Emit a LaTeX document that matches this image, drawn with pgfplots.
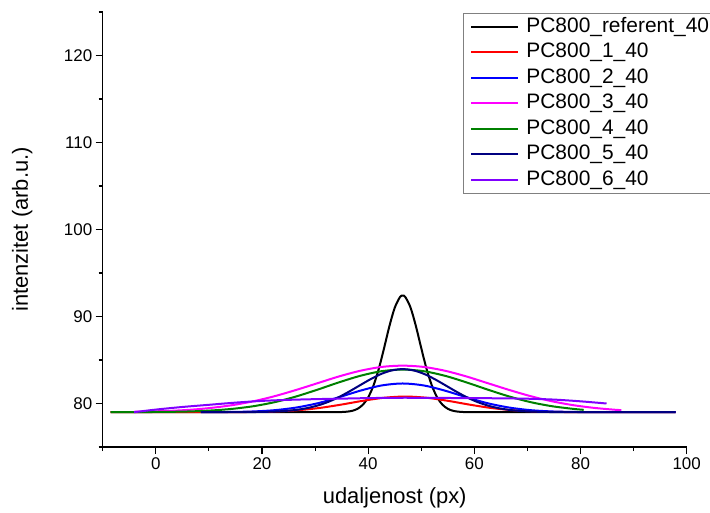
\documentclass[border=0pt]{standalone}
\usepackage{pgfplots}
\pgfplotsset{compat=1.18}
\usepackage{fontspec}
\setmainfont{Liberation Sans}
\definecolor{cnavy}{RGB}{0,0,128}
\definecolor{cgreen}{RGB}{0,128,0}
\definecolor{cviolet}{RGB}{128,0,255}
\definecolor{cmag}{RGB}{255,0,255}
\definecolor{cred}{RGB}{255,0,0}
\definecolor{cblue}{RGB}{0,0,255}
\begin{document}
\begin{tikzpicture}
\begin{axis}[name=ax,
 scale only axis, width=584bp, height=435bp,
 xmin=-10, xmax=100, ymin=75, ymax=125,
 axis x line=bottom, axis y line=left,
 axis line style={-, line width=1.1bp, black},
 xtick={0,20,...,100}, minor xtick={-10,10,...,90},
 ytick={80,90,...,120}, minor ytick={75,85,...,125},
 tick align=outside, major tick length=7bp, minor tick length=4bp,
 every tick/.style={line width=1.1bp, black},
 /pgf/number format/assume math mode=true,
 ticklabel style={font=\fontsize{17}{20}\selectfont},
 xlabel={udaljenost (px)}, ylabel={intenzitet (arb.u.)},
 label style={font=\fontsize{22}{26}\selectfont},
 xlabel style={at={(axis description cs:0.5,-0.117)}, anchor=center},
 ylabel style={at={(axis description cs:-0.138,0.5)}, anchor=center},
 legend style={at={(axis description cs:0.617,0.997)}, anchor=north west,
   draw=gray, line width=0.8bp, font=\fontsize{21}{25}\selectfont,
   inner xsep=7bp, inner ysep=2bp, row sep=3bp, column sep=5bp, cells={anchor=west},
   nodes={inner sep=2bp, text height=14.5bp, text depth=4bp}},
 legend image code/.code={\draw[#1, line width=2bp] (0bp,0bp) -- (47bp,0bp);},
 every axis plot/.append style={line width=2bp, smooth},
]
\addplot[black, line width=2bp] coordinates {(-8.5,79) (30,79) (33,79.01) (34,79.01) (35,79.02) (36,79.06) (37,79.16) (38,79.39) (39,79.86) (40,80.70) (41,82.06) (42,83.98) (43,86.37) (44,88.88) (45,91.00) (46,92.24) (46.5,92.40) (47,92.24) (48,91.00) (49,88.88) (50,86.37) (51,83.98) (52,82.06) (53,80.70) (54,79.86) (55,79.39) (56,79.16) (57,79.06) (58,79.02) (59,79.01) (63,79) (97.9,79)};
\addlegendentry{PC800\_referent\_40}
\addplot[cred, line width=2bp] coordinates {(-8.5,79) (7,79) (11,79.00) (15,79.01) (19,79.04) (23,79.10) (27,79.24) (31,79.50) (35,79.88) (39,80.31) (43,80.66) (47,80.80) (51,80.66) (55,80.31) (59,79.88) (63,79.50) (67,79.24) (71,79.10) (75,79.04) (79,79.01) (83,79.00) (97.9,79)};
\addlegendentry{PC800\_1\_40}
\addplot[cblue, line width=2bp] coordinates {(8.5,79.00) (10.5,79.01) (14.5,79.03) (18.5,79.09) (22.5,79.24) (26.5,79.54) (30.5,80.03) (34.5,80.72) (38.5,81.47) (42.5,82.07) (46.5,82.30) (50.5,82.07) (54.5,81.47) (58.5,80.72) (62.5,80.03) (66.5,79.54) (70.5,79.24) (74.5,79.09) (78.5,79.03) (82.5,79.01) (86.5,79.00) (97.9,79.00)};
\addlegendentry{PC800\_2\_40}
\addplot[cmag, line width=2bp] coordinates {(-4.1,79.05) (-1.5,79.08) (2.5,79.15) (6.5,79.28) (10.5,79.50) (14.5,79.82) (18.5,80.27) (22.5,80.86) (26.5,81.57) (30.5,82.34) (34.5,83.11) (38.5,83.76) (42.5,84.20) (46.5,84.35) (50.5,84.20) (54.5,83.76) (58.5,83.11) (62.5,82.34) (66.5,81.57) (70.5,80.86) (74.5,80.27) (78.5,79.82) (82.5,79.50) (86.5,79.28) (87.7,79.24)};
\addlegendentry{PC800\_3\_40}
\addplot[cgreen, line width=2bp] coordinates {(-8.5,79.00) (-1.5,79.02) (2.5,79.04) (6.5,79.09) (10.5,79.20) (14.5,79.39) (18.5,79.70) (22.5,80.17) (26.5,80.82) (30.5,81.60) (34.5,82.43) (38.5,83.18) (42.5,83.71) (46.5,83.90) (50.5,83.71) (54.5,83.18) (58.5,82.43) (62.5,81.60) (66.5,80.82) (70.5,80.17) (74.5,79.70) (78.5,79.39) (80.6,79.27)};
\addlegendentry{PC800\_4\_40}
\addplot[cnavy, line width=2bp] coordinates {(8.5,79.00) (12.5,79.00) (16.5,79.01) (18.5,79.02) (20.5,79.04) (22.5,79.08) (24.5,79.15) (26.5,79.27) (28.5,79.47) (30.5,79.77) (32.5,80.19) (34.5,80.74) (36.5,81.40) (38.5,82.11) (40.5,82.81) (42.5,83.41) (44.5,83.81) (46.5,83.95) (48.5,83.81) (50.5,83.41) (52.5,82.81) (54.5,82.11) (56.5,81.40) (58.5,80.74) (60.5,80.19) (62.5,79.77) (64.5,79.47) (66.5,79.27) (68.5,79.15) (70.5,79.08) (72.5,79.04) (74.5,79.02) (76.5,79.01) (80.5,79.00) (97.9,79.00)};
\addlegendentry{PC800\_5\_40}
\addplot[cviolet, line width=2bp] coordinates {(-4.1,79.0) (0,79.3) (5,79.6) (10,79.85) (15,80.1) (20,80.3) (25,80.42) (30,80.5) (35,80.56) (40,80.62) (46,80.66) (52,80.65) (58,80.62) (64,80.6) (70,80.55) (75,80.45) (80,80.25) (84.9,80.0)};
\addlegendentry{PC800\_6\_40}
\end{axis}
\pgfresetboundingbox
\path[use as bounding box] (-102.7bp,-66bp) rectangle (607.3bp,447bp);
\end{tikzpicture}
\end{document}
